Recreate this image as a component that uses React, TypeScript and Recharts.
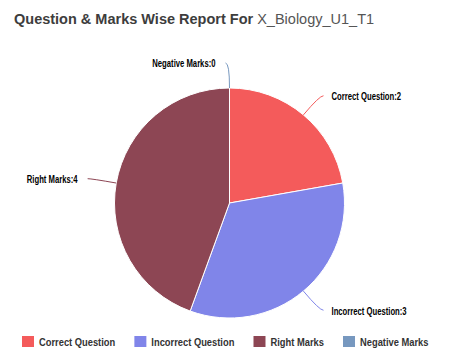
import React from 'react';
import { PieChart, Pie, Cell, Legend } from 'recharts';

const categories = ['Correct Question', 'Incorrect Question', 'Right Marks', 'Negative Marks'];
const values = [2, 3, 4, 0];
const colors = ['#f45b5b', '#8085e9', '#8d4654', '#7798BF'];
const titleBold = 'Question & Marks Wise Report For';
const titleRest = 'X_Biology_U1_T1';

const data = categories.map((name, i) => ({ name, value: values[i] }));

const FONT = "'Liberation Sans', Arial, sans-serif";
const RAD = Math.PI / 180;
const LABEL_SCALE = 0.77;
const LEGEND_SCALE = 0.85;
const LEGEND_FONT_SIZE = 11;

let measureCtx: CanvasRenderingContext2D | null = null;
const measure = (text: string, size: number) => {
  if (!measureCtx) {
    measureCtx = document.createElement('canvas').getContext('2d');
  }
  if (!measureCtx) return text.length * size * 0.55;
  measureCtx.font = `bold ${size}px 'Liberation Sans', Arial, sans-serif`;
  return measureCtx.measureText(text).width;
};

const renderLabel = (props: any) => {
  const { cx, cy, midAngle, outerRadius, index, name, value } = props;
  const c = Math.cos(-midAngle * RAD);
  const s = Math.sin(-midAngle * RAD);
  const right = c > 0.01;
  const d = 25;
  const ex = cx + outerRadius * c;
  const ey = cy + outerRadius * s;
  const ax = cx + (outerRadius + d) * c;
  const ay = cy + (outerRadius + d) * s;
  const endX = ax + (right ? 4 : -4);
  const textX = endX + (right ? 8 : -10);
  return (
    <g key={`lbl-${index}`}>
      <path
        d={`M${ex},${ey} Q${ax},${ay} ${endX},${ay}`}
        stroke={colors[index]}
        strokeWidth={1}
        fill="none"
      />
      <text
        transform={`translate(${textX},${ay + 1}) scale(${LABEL_SCALE},1)`}
        x={0}
        y={0}
        textAnchor={right ? 'start' : 'end'}
        dominantBaseline="central"
        fontFamily={FONT}
        fontWeight="bold"
        fontSize={10}
        fill="#000"
      >
        {`${name}:${value}`}
      </text>
    </g>
  );
};

const renderLegend = () => {
  let x = 22;
  const items = categories.map((c, i) => {
    const w = measure(c, LEGEND_FONT_SIZE) * LEGEND_SCALE;
    const item = { c, i, x };
    x += 12 + 5 + w + 19;
    return item;
  });
  return (
    <svg width={475} height={20} style={{ display: 'block' }}>
      {items.map(({ c, i, x: ix }) => (
        <g key={c}>
          <rect x={ix} y={4} width={12} height={11} fill={colors[i]} />
          <text
            transform={`translate(${ix + 17},${10}) scale(${LEGEND_SCALE},1)`}
            x={0}
            y={0}
            dominantBaseline="central"
            fontFamily={FONT}
            fontWeight="bold"
            fontSize={LEGEND_FONT_SIZE}
            fill="#333"
          >
            {c}
          </text>
        </g>
      ))}
    </svg>
  );
};

export default function App() {
  return (
    <div style={{ position: 'absolute', left: 0, top: 0, width: 475, height: 353, background: '#fff' }}>
      <div
        style={{
          position: 'absolute',
          left: 14,
          top: 12,
          fontFamily: FONT,
          fontSize: 14.5,
          lineHeight: '15px',
          whiteSpace: 'nowrap',
          color: '#3d3d3d',
          zIndex: 2,
        }}
      >
        <span style={{ fontWeight: 'bold' }}>{titleBold}</span>{' '}
        <span style={{ color: '#555' }}>{titleRest}</span>
      </div>
      <PieChart
        width={475}
        height={353}
        margin={{ top: 0, right: 0, bottom: 0, left: 0 }}
        style={{ position: 'absolute', left: 0, top: 0 }}
      >
        <Pie
          data={data}
          dataKey="value"
          nameKey="name"
          cx={229.5}
          cy={203}
          outerRadius={115}
          startAngle={90}
          endAngle={-270}
          stroke="#fff"
          strokeWidth={1}
          label={renderLabel}
          labelLine={false}
          isAnimationActive={false}
        >
          {data.map((d, i) => (
            <Cell key={d.name} fill={colors[i]} />
          ))}
        </Pie>
        <Legend
          content={renderLegend}
          wrapperStyle={{ position: 'absolute', left: 0, top: 332, width: 475, height: 20 }}
        />
      </PieChart>
    </div>
  );
}
